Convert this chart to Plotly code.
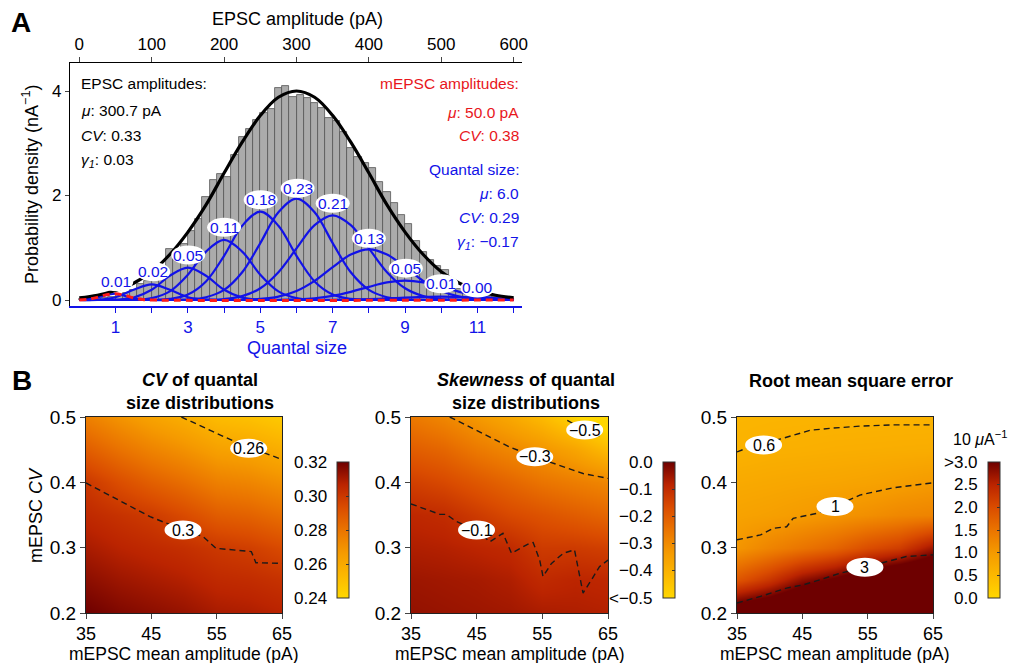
import plotly.graph_objects as go

W, H = 1011, 663
FONT = "Liberation Sans, Arial, Helvetica, sans-serif"
BLUE = "#1212e8"
RED = "#e8161c"


def fx(p):
    return p / W


def fy(p):
    return 1 - p / H


# ---------------- Panel A data ----------------
QUANTAL_PA = 50.0                      # mEPSC mean amplitude (pA per quantum)
hist_bin_left_pA = list(range(0, 600, 10))
hist_bin_width_pA = 10
hist_density = [
    0.01, 0.01, 0.02, 0.04, 0.06, 0.10, 0.14, 0.20, 0.30, 0.36,
    0.46, 0.62, 0.97, 0.82, 1.08, 1.32, 1.55, 1.98, 2.30, 2.42,
    2.36, 2.78, 3.12, 3.27, 3.45, 3.58, 3.66, 4.06, 4.10, 3.88,
    3.93, 3.86, 3.77, 3.68, 3.49, 3.42, 3.22, 2.90, 2.74, 2.62,
    2.52, 2.26, 2.07, 1.85, 1.62, 1.45, 1.12, 0.92, 0.76, 0.66,
    0.58, 0.32, 0.22, 0.16, 0.12, 0.09, 0.07, 0.05, 0.03, 0.02]

curve_q = [0.0, 0.5, 1.0, 1.5, 2.0, 2.5, 3.0, 3.5, 4.0, 4.5, 5.0, 5.5, 6.0,
           6.5, 7.0, 7.5, 8.0, 8.5, 9.0, 9.5, 10.0, 10.5, 11.0, 11.5, 12.0]
epsc_fit = [0.04, 0.09, 0.18, 0.32, 0.54, 0.87, 1.30, 1.82, 2.43, 3.02, 3.53, 3.88, 4.00,
            3.88, 3.53, 3.02, 2.43, 1.82, 1.30, 0.87, 0.54, 0.32, 0.18, 0.09, 0.04]

comp_1 = [0, 0.05, 0.12, 0.03, 0] + [0] * 20
comp_2 = [0, 0.006, 0.053, 0.195, 0.30, 0.195, 0.053, 0.006] + [0] * 17
comp_3 = [0, 0, 0.006, 0.046, 0.195, 0.464, 0.62, 0.464, 0.195, 0.046, 0.006] + [0] * 14
comp_4 = [0, 0, 0, 0.005, 0.036, 0.164, 0.484, 0.926, 1.15, 0.926, 0.484, 0.164, 0.036,
          0.005] + [0] * 11
comp_5 = [0, 0, 0, 0, 0.003, 0.022, 0.106, 0.356, 0.846, 1.421, 1.69, 1.421, 0.846, 0.356,
          0.106, 0.022, 0.003] + [0] * 8
comp_6 = [0, 0, 0, 0, 0, 0.002, 0.011, 0.053, 0.193, 0.530, 1.089, 1.679, 1.94, 1.679,
          1.089, 0.530, 0.193, 0.053, 0.011, 0.002] + [0] * 5
comp_7 = [0] * 7 + [0.004, 0.019, 0.074, 0.224, 0.532, 0.988, 1.432, 1.62, 1.432, 0.988,
                    0.532, 0.224, 0.074, 0.019, 0.004] + [0] * 3
comp_8 = [0] * 9 + [0.005, 0.020, 0.065, 0.172, 0.366, 0.629, 0.870, 0.97, 0.870, 0.629,
                    0.366, 0.172, 0.065, 0.020, 0.005] + [0]
comp_9 = [0] * 11 + [0.003, 0.012, 0.033, 0.079, 0.156, 0.252, 0.336, 0.37, 0.336, 0.252,
                     0.156, 0.079, 0.033, 0.012]
comp_10 = [0] * 14 + [0.003, 0.008, 0.017, 0.030, 0.047, 0.06, 0.066, 0.06, 0.047, 0.030, 0.017]
comp_11 = [0] * 18 + [0.002, 0.003, 0.004, 0.005, 0.006, 0.005, 0.004]
components = [comp_1, comp_2, comp_3, comp_4, comp_5, comp_6, comp_7, comp_8, comp_9,
              comp_10, comp_11]

comp_weight_text = ["0.01", "0.02", "0.05", "0.11", "0.18", "0.23", "0.21", "0.13", "0.05",
                    "0.01", "0.00"]
comp_label_q = [1.02, 2.04, 3.01, 4.0, 5.01, 6.03, 7.0, 8.0, 9.02, 10.0, 11.0]
comp_label_y = [0.35, 0.54, 0.86, 1.39, 1.92, 2.14, 1.85, 1.18, 0.61, 0.31, 0.23]

mepsc_q = [0.0, 0.25, 0.5, 0.75, 1.0, 1.25, 1.5, 1.75, 2.0, 12.0]
mepsc_density = [0.0, 0.015, 0.05, 0.10, 0.12, 0.09, 0.04, 0.01, 0.0, 0.0]

pA_ticks = [0, 100, 200, 300, 400, 500, 600]
quantal_label_ticks = [1, 3, 5, 7, 9, 11]
quantal_minor_ticks = [2, 4, 6, 8, 10, 12]
density_ticks = [0, 2, 4]

left_text = ["EPSC amplitudes:", "<i>μ</i>: 300.7 pA", "<i>CV</i>: 0.33",
             "<i>γ<sub>1</sub></i>: 0.03"]
red_text = ["mEPSC amplitudes:", "<i>μ</i>: 50.0 pA", "<i>CV</i>: 0.38"]
blue_text = ["Quantal size:", "<i>μ</i>: 6.0", "<i>CV</i>: 0.29", "<i>γ<sub>1</sub></i>: −0.17"]

# ---------------- Panel B data ----------------
mean_amp = [35, 40, 45, 50, 55, 60, 65]
mepsc_cv = [0.20, 0.25, 0.30, 0.35, 0.40, 0.45, 0.50]

cv_quantal = [
    [0.320, 0.317, 0.315, 0.313, 0.310, 0.309, 0.307],
    [0.315, 0.312, 0.310, 0.308, 0.305, 0.304, 0.302],
    [0.310, 0.307, 0.305, 0.303, 0.300, 0.298, 0.294],
    [0.305, 0.302, 0.299, 0.294, 0.288, 0.286, 0.282],
    [0.300, 0.293, 0.287, 0.282, 0.276, 0.274, 0.270],
    [0.288, 0.281, 0.275, 0.270, 0.264, 0.262, 0.258],
    [0.276, 0.269, 0.263, 0.258, 0.252, 0.250, 0.246]]

skew_quantal = [
    [-0.040, -0.045, -0.050, -0.055, -0.065, -0.070, -0.075],
    [-0.050, -0.055, -0.060, -0.070, -0.095, -0.085, -0.090],
    [-0.070, -0.075, -0.085, -0.095, -0.130, -0.130, -0.140],
    [-0.090, -0.100, -0.130, -0.160, -0.180, -0.200, -0.220],
    [-0.140, -0.160, -0.190, -0.220, -0.250, -0.270, -0.290],
    [-0.200, -0.220, -0.260, -0.290, -0.320, -0.360, -0.420],
    [-0.260, -0.290, -0.330, -0.370, -0.420, -0.490, -0.550]]

rmse = [
    [3.50, 3.70, 4.00, 4.30, 4.60, 4.90, 5.00],
    [1.90, 2.30, 2.80, 3.10, 3.50, 3.80, 4.00],
    [1.06, 1.30, 1.50, 1.70, 2.00, 2.20, 2.70],
    [0.86, 0.91, 0.98, 1.06, 1.15, 1.25, 1.30],
    [0.74, 0.77, 0.80, 0.82, 0.86, 0.92, 0.99],
    [0.60, 0.64, 0.65, 0.67, 0.68, 0.69, 0.70],
    [0.55, 0.565, 0.575, 0.58, 0.585, 0.59, 0.59]]

# contour lines (x: mean amplitude, y: CV)
cv_c026_x = [49.6, 53.5, 57.5, 60.0, 62.6, 65.0]
cv_c026_y = [0.500, 0.482, 0.464, 0.452, 0.444, 0.435]
cv_c030_x = [35.0, 40.0, 44.8, 49.9, 52.9, 54.9, 60.3, 61.0, 65.0]
cv_c030_y = [0.399, 0.373, 0.3475, 0.327, 0.317, 0.299, 0.294, 0.277, 0.276]

sk_c05_x = [58.8, 61.4, 64.0]
sk_c05_y = [0.495, 0.480, 0.470]
sk_c03_x = [40.9, 45.5, 50.05, 53.85, 58.2, 61.2, 65.0]
sk_c03_y = [0.500, 0.477, 0.454, 0.439, 0.424, 0.4135, 0.406]
sk_c01_x = [35.0, 37.4, 39.4, 40.4, 41.9, 45.0, 47.0, 49.0, 50.3, 53.1, 53.6, 54.6, 55.1,
            56.4, 58.2, 59.9, 60.4, 61.2, 62.5, 63.7, 65.0]
sk_c01_y = [0.367, 0.358, 0.351, 0.351, 0.340, 0.327, 0.309, 0.322, 0.2915, 0.307, 0.308,
            0.281, 0.256, 0.276, 0.2915, 0.2966, 0.271, 0.2305, 0.251, 0.271, 0.281]

rm_c06_x = [35.0, 38.0, 41.9, 46.2, 49.7, 53.8, 58.9, 65.0]
rm_c06_y = [0.4466, 0.458, 0.467, 0.4797, 0.483, 0.486, 0.488, 0.488]
rm_c1_x = [35.0, 38.6, 40.6, 42.6, 43.6, 47.2, 50.0, 53.8, 58.9, 65.0]
rm_c1_y = [0.312, 0.3195, 0.3297, 0.332, 0.345, 0.3525, 0.363, 0.3805, 0.3917, 0.3993]
rm_c3_x = [35.0, 38.6, 42.6, 45.2, 47.7, 50.8, 54.6, 58.9, 60.9, 65.0]
rm_c3_y = [0.2153, 0.2254, 0.2381, 0.2432, 0.2508, 0.261, 0.270, 0.2814, 0.2864, 0.289]

contour_labels = [  # (axis suffix, text, x, y)
    ("3", "0.26", 59.9, 0.452), ("3", "0.3", 49.85, 0.327),
    ("4", "−0.5", 61.45, 0.480), ("4", "−0.3", 53.85, 0.439), ("4", "−0.1", 44.98, 0.327),
    ("5", "0.6", 39.07, 0.457), ("5", "1", 50.0, 0.363), ("5", "3", 54.58, 0.270)]

cb1_ticks = [0.24, 0.26, 0.28, 0.30, 0.32]
cb1_text = ["0.24", "0.26", "0.28", "0.30", "0.32"]
cb2_ticks = [-0.5, -0.4, -0.3, -0.2, -0.1, 0.0]
cb2_text = ["<−0.5", "−0.4", "−0.3", "−0.2", "−0.1", "0.0"]
cb3_ticks = [0.0, 0.5, 1.0, 1.5, 2.0, 2.5, 3.0]
cb3_text = ["0.0", "0.5", "1.0", "1.5", "2.0", "2.5", ">3.0"]

CSCALE = [[0.0, "#ffd700"], [0.167, "#fcb800"], [0.333, "#f59a00"], [0.5, "#ea7400"],
          [0.667, "#da4c00"], [0.833, "#bb2400"], [1.0, "#6e0000"]]

# ---------------- layout geometry (pixels) ----------------
A_L, A_R, A_T, A_B = 70, 522, 63, 306
q_per_px = 1 / 36.2
q0_px = 79.3
x_range_q = [(A_L - q0_px) * q_per_px, (A_R - q0_px) * q_per_px]
y0_px, px_per_unit = 300, 52.25
y_range = [(y0_px - A_B) / px_per_unit, (y0_px - A_T) / px_per_unit]

HM_T, HM_B = 417, 613
HM_X = [(86, 282), (411, 608), (737, 933)]
CB_LEFT = [337, 663, 988]
CB_T, CB_B = 462, 598

fig = go.Figure()

# histogram
fig.add_trace(go.Bar(
    x=[(l + hist_bin_width_pA / 2) / QUANTAL_PA for l in hist_bin_left_pA],
    y=hist_density, width=hist_bin_width_pA / QUANTAL_PA,
    marker=dict(color="#ababab", line=dict(color="#555555", width=0.8)),
    xaxis="x", yaxis="y", showlegend=False, hoverinfo="skip"))
for comp in components:
    fig.add_trace(go.Scatter(x=curve_q, y=comp, mode="lines",
                             line=dict(color=BLUE, width=2.2, shape="spline", smoothing=1.0),
                             xaxis="x", yaxis="y", showlegend=False, hoverinfo="skip"))
fig.add_trace(go.Scatter(x=curve_q, y=epsc_fit, mode="lines",
                         line=dict(color="black", width=3.2, shape="spline"),
                         xaxis="x", yaxis="y", showlegend=False, hoverinfo="skip"))
fig.add_trace(go.Scatter(x=mepsc_q, y=mepsc_density, mode="lines",
                         line=dict(color="#ff1a1a", width=3, dash="7px,5px", shape="spline"),
                         xaxis="x", yaxis="y", showlegend=False, hoverinfo="skip"))
# anchor for top pA axis (invisible)
fig.add_trace(go.Scatter(x=[pA_ticks[0], pA_ticks[-1]], y=[None, None], mode="lines",
                         xaxis="x2", yaxis="y", showlegend=False, hoverinfo="skip"))

# heatmaps
heat_sets = [(cv_quantal, 0.24, 0.32, cb1_ticks), (skew_quantal, -0.5, 0.0, cb2_ticks),
             (rmse, 0.0, 3.0, cb3_ticks)]
for i, (z, zmin, zmax, tv) in enumerate(heat_sets):
    fig.add_trace(go.Heatmap(
        x=mean_amp, y=mepsc_cv, z=z, zmin=zmin, zmax=zmax, zsmooth="best",
        colorscale=CSCALE, xaxis="x%d" % (i + 3), yaxis="y%d" % (i + 3), hoverinfo="skip",
        colorbar=dict(x=fx(CB_LEFT[i]), xanchor="left", xpad=0,
                      y=fy((CB_T + CB_B) / 2), yanchor="middle", ypad=0,
                      len=CB_B - CB_T, lenmode="pixels", thickness=12, thicknessmode="pixels",
                      outlinewidth=1, outlinecolor="#333333", ticks="inside", ticklen=3,
                      tickcolor="#333333", tickvals=tv, showticklabels=False)))

contour_sets = [("3", cv_c026_x, cv_c026_y), ("3", cv_c030_x, cv_c030_y),
                ("4", sk_c05_x, sk_c05_y), ("4", sk_c03_x, sk_c03_y), ("4", sk_c01_x, sk_c01_y),
                ("5", rm_c06_x, rm_c06_y), ("5", rm_c1_x, rm_c1_y), ("5", rm_c3_x, rm_c3_y)]
for ax, cx, cy in contour_sets:
    fig.add_trace(go.Scatter(x=cx, y=cy, mode="lines",
                             line=dict(color="#1a1a1a", width=1.4, dash="6px,4px"),
                             xaxis="x" + ax, yaxis="y" + ax, showlegend=False, hoverinfo="skip"))

shapes = []
annotations = []


def ann(text, x, y, size, color="black", xanchor="center", yanchor="middle",
        xref="paper", yref="paper", angle=0, align="center"):
    annotations.append(dict(text=text, x=x, y=y, xref=xref, yref=yref, showarrow=False,
                            xanchor=xanchor, yanchor=yanchor, textangle=angle, align=align,
                            font=dict(family=FONT, size=size, color=color)))


def ellipse(xref, yref, x, y, w, h):
    shapes.append(dict(type="circle", xref=xref, yref=yref, xsizemode="pixel",
                       ysizemode="pixel", xanchor=x, yanchor=y, x0=-w / 2, x1=w / 2,
                       y0=-h / 2, y1=h / 2, fillcolor="white", line=dict(width=0),
                       layer="above"))


# component weight labels
for t, q, yv in zip(comp_weight_text, comp_label_q, comp_label_y):
    ellipse("x", "y", q, yv, 34, 19)
    ann(t, q, yv, 15.5, BLUE, xref="x", yref="y")

# contour labels
for ax, t, xv, yv in contour_labels:
    ellipse("x" + ax, "y" + ax, xv, yv, 37, 19)
    ann(t, xv, yv, 16, "black", xref="x" + ax, yref="y" + ax)

# panel A texts
for t, yp in zip(left_text, [83, 111, 136, 160]):
    ann(t, fx(79), fy(yp), 15.5, "black", xanchor="left")
for t, yp in zip(red_text, [83, 112, 136]):
    ann(t, fx(521), fy(yp), 15.5, RED, xanchor="right")
for t, yp in zip(blue_text, [169, 193, 218, 242]):
    ann(t, fx(521), fy(yp), 15.5, BLUE, xanchor="right")

ann("<b>A</b>", fx(9), fy(23), 28, xanchor="left")
ann("<b>B</b>", fx(10), fy(381), 28, xanchor="left")
ann("EPSC amplitude (pA)", fx(297), fy(19), 18)
ann("Quantal size", fx(297), fy(348), 18, BLUE)
ann("Probability density (nA<sup>−1</sup>)", fx(30), fy(185), 18, angle=-90)

# panel B titles / axis titles
titles = ["<b><i>CV</i> of quantal<br>size distributions</b>",
          "<b><i>Skewness</i> of quantal<br>size distributions</b>",
          "<b>Root mean square error</b>"]
for i, t in enumerate(titles):
    cx = (HM_X[i][0] + HM_X[i][1]) / 2 + 16
    cy = 391.5 if i < 2 else 381
    ann(t, fx(cx), fy(cy), 18)
    ann("mEPSC mean amplitude (pA)", fx((HM_X[i][0] + HM_X[i][1]) / 2), fy(653.5), 17.5)
ann("mEPSC <i>CV</i>", fx(36), fy(515), 18, angle=-90)

# colorbar tick labels
cb_sets = [(cb1_ticks, cb1_text, 0.24, 0.32, 329), (cb2_ticks, cb2_text, -0.5, 0.0, 655),
           (cb3_ticks, cb3_text, 0.0, 3.0, 980)]
for tv, tt, lo, hi, xr in cb_sets:
    for v, t in zip(tv, tt):
        yp = CB_B - (v - lo) / (hi - lo) * (CB_B - CB_T)
        ann(t, fx(xr), fy(yp), 17, xanchor="right")
ann("10 <i>μ</i>A<sup>−1</sup>", fx(1009), fy(438), 16, xanchor="right")

axis_common = dict(showgrid=False, zeroline=False, automargin=False)
layout = dict(
    width=W, height=H, autosize=False, margin=dict(l=0, r=0, t=0, b=0),
    paper_bgcolor="white", plot_bgcolor="white", bargap=0, showlegend=False,
    font=dict(family=FONT, color="black"),
    xaxis=dict(domain=[fx(A_L), fx(A_R)], range=x_range_q, anchor="y",
               showline=True, linecolor=BLUE, linewidth=1.6, ticks="outside", ticklen=5,
               tickcolor=BLUE, tickwidth=1.4, tickvals=quantal_label_ticks,
               minor=dict(tickvals=quantal_minor_ticks, ticks="outside", ticklen=5,
                          tickcolor=BLUE, tickwidth=1.4, showgrid=False),
               tickfont=dict(size=17, color=BLUE), **axis_common),
    xaxis2=dict(overlaying="x", side="top", anchor="y",
                range=[r * QUANTAL_PA for r in x_range_q], showline=True, linecolor="black",
                linewidth=1.2, ticks="outside", ticklen=5, tickvals=pA_ticks,
                tickfont=dict(size=17), **axis_common),
    yaxis=dict(domain=[fy(A_B), fy(A_T)], range=y_range, anchor="x", showline=True,
               linecolor="black", linewidth=1.2, ticks="outside", ticklen=4,
               tickvals=density_ticks, tickfont=dict(size=17), **axis_common),
    shapes=shapes, annotations=annotations,
)
for i in range(3):
    n = i + 3
    layout["xaxis%d" % n] = dict(
        domain=[fx(HM_X[i][0]), fx(HM_X[i][1])], range=[35, 65], anchor="y%d" % n,
        showline=True, mirror=True, linecolor="#222222", linewidth=1, ticks="outside",
        ticklen=5, tickvals=[35, 45, 55, 65], tickfont=dict(size=18), ticklabelstandoff=-1,
        **axis_common)
    layout["yaxis%d" % n] = dict(
        domain=[fy(HM_B), fy(HM_T)], range=[0.2, 0.5], anchor="x%d" % n,
        showline=True, mirror=True, linecolor="#222222", linewidth=1, ticks="outside",
        ticklen=5, tickvals=[0.2, 0.3, 0.4, 0.5], ticktext=["0.2", "0.3", "0.4", "0.5"],
        tickfont=dict(size=19), **axis_common)

fig.update_layout(**layout)
fig.write_html("out.html")
